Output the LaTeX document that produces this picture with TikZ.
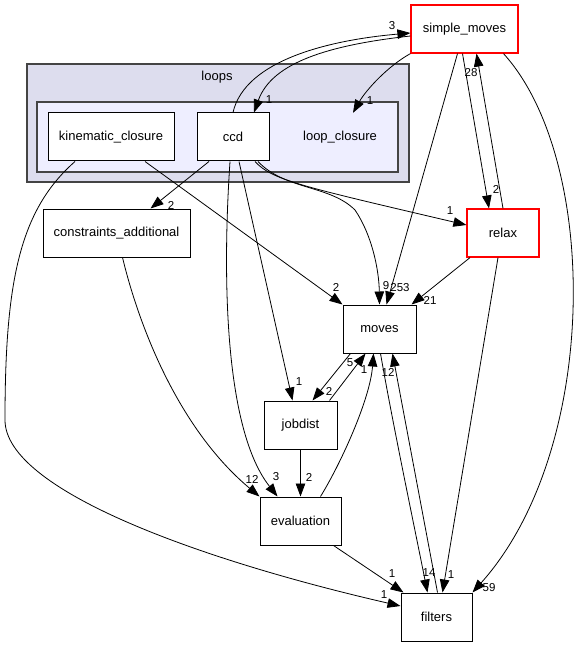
\documentclass[tikz,border=0pt]{standalone}
\usepackage{fontspec}
\setmainfont{Liberation Sans}
\usetikzlibrary{arrows.meta,calc}
\definecolor{clouter}{HTML}{DDDDEE}
\definecolor{clinner}{HTML}{EEEEFF}
\definecolor{clline}{HTML}{444444}
\definecolor{redline}{HTML}{FF0000}
\begin{document}
\begin{tikzpicture}[x=1pt,y=-1pt,
  box/.style={draw=black,line width=1pt,fill=white,minimum height=48pt,inner sep=0pt,font=\fontsize{13}{15}\selectfont},
  redbox/.style={draw=redline,line width=1.2pt,fill=white,minimum height=48pt,inner sep=0pt,font=\fontsize{13}{15}\selectfont},
  plain/.style={inner sep=0pt,minimum height=48pt,font=\fontsize{13}{15}\selectfont},
  e/.style={draw=black,line width=0.8pt,-{Triangle[length=13pt,width=9.5pt]}},
  lbl/.style={font=\fontsize{11.5}{13}\selectfont,inner sep=0pt}]
\useasboundingbox (0,0) rectangle (582,647);
\fill[white] (0,0) rectangle (582,647);
% clusters
\draw[fill=clouter,draw=clline,line width=1.1pt] (27,64) rectangle (409,182);
\node[font=\fontsize{13}{15}\selectfont,inner sep=0pt] (loopslbl) at (217,77) {loops};
\draw[fill=clinner,draw=clline,line width=1.1pt] (37,102) rectangle (398,172);
% nodes
\node[redbox,minimum width=107pt] (sm) at (464.5,29) {simple\_moves};
\node[box,minimum width=126pt] (kin) at (111,137) {kinematic\_closure};
\node[box,minimum width=72pt] (ccd) at (233,137) {ccd};
\node[plain,minimum width=72pt] (lc) at (340,137) {loop\_closure};
\node[box,minimum width=147pt] (ca) at (116.5,233) {constraints\_additional};
\node[redbox,minimum width=72pt] (relax) at (503,233) {relax};
\node[box,minimum width=73pt] (moves) at (379.5,329) {moves};
\node[box,minimum width=73pt] (jobdist) at (300.5,425) {jobdist};
\node[box,minimum width=81pt] (eval) at (300.5,521) {evaluation};
\node[box,minimum width=71pt] (filters) at (436.5,617) {filters};
% edges
\draw[e] (ccd.north) .. controls (245,60) and (330,40) .. ($(sm.west)+(0,4)$);
\draw[e] ($(sm.west)+(0,7)$) .. controls (330,45) and (272,62) .. ($(ccd.north)+(21,0)$);
\draw[e] (sm.south west) .. controls (388,66) and (366,90) .. ($(lc.north)+(13,0)$);
\draw[e] ($(sm.south)+(-7,0)$) -- ($(moves.north)+(7,0)$);
\draw[e] ($(sm.south)+(-2,0)$) -- ($(relax.north)+(-14,0)$);
\draw[e] (relax.north) -- ($(sm.south)+(12,0)$);
\draw[e] ($(sm.south)+(39,0)$) .. controls (600,160) and (600,450) .. (filters.north east);
\draw[e] ($(relax.south)+(-33,0)$) -- ($(moves.north)+(32,0)$);
\draw[e] ($(relax.south)+(-5,0)$) -- ($(filters.north)+(6,0)$);
\draw[e] ($(ccd.south)+(-24,0)$) -- ($(ca.north)+(34,0)$);
\draw[e] ($(ccd.south)+(22,0)$) .. controls (272,180) and (300,186) .. ($(relax.west)+(0,-8)$);
\draw[e] ($(ccd.south)+(25,0)$) .. controls (285,190) and (330,185) .. (355,210) .. controls (372,235) and (379,270) .. (moves.north);
\draw[e] ($(ccd.south)+(6,0)$) -- ($(jobdist.north)+(-8,0)$);
\draw[e] ($(ccd.south)+(-3,0)$) .. controls (222,280) and (225,430) .. ($(eval.north)+(-23,0)$);
\draw[e] ($(kin.south)+(34,0)$) -- (moves.north west);
\draw[e] ($(kin.south)+(-36,0)$) .. controls (20,210) and (5,280) .. (5,420) .. controls (5,490) and (200,560) .. ($(filters.west)+(0,-11)$);
\draw[e] ($(ca.south)+(6,0)$) .. controls (140,330) and (180,430) .. (eval.north west);
\draw[e] ($(moves.south)+(-29,0)$) -- ($(jobdist.north)+(12,0)$);
\draw[e] ($(jobdist.north)+(29,0)$) -- ($(moves.south)+(-14,0)$);
\draw[e] ($(eval.north)+(20,0)$) .. controls (340,465) and (370,400) .. ($(moves.south)+(-6,0)$);
\draw[e] (jobdist.south) -- (eval.north);
\draw[e] ($(eval.south)+(33,0)$) -- ($(filters.north west)+(3,0)$);
\draw[e] ($(moves.south)+(1,0)$) .. controls (392,420) and (415,530) .. ($(filters.north)+(-9,0)$);
\draw[e] ($(filters.north)+(1,0)$) -- ($(moves.south)+(13,0)$);
% labels
\node[lbl] (l1) at (392,26) {3};
\node[lbl] (l2) at (269,100) {1};
\node[lbl] (l3) at (370,101) {1};
\node[lbl] (l4) at (471,73) {28};
\node[lbl] (l5) at (496,189) {2};
\node[lbl] (l6) at (450,211) {1};
\node[lbl] (l7) at (336,287) {2};
\node[lbl] (l8) at (386,286) {9};
\node[lbl] (l9) at (400,288) {253};
\node[lbl] (l10) at (430,300) {21};
\node[lbl] (l11) at (171,205) {2};
\node[lbl] (l12) at (350,363) {5};
\node[lbl] (l13) at (364,370) {1};
\node[lbl] (l14) at (388,372) {12};
\node[lbl] (l15) at (299,382) {1};
\node[lbl] (l16) at (329,391) {2};
\node[lbl] (l17) at (309,477) {2};
\node[lbl] (l18) at (276,477) {3};
\node[lbl] (l19) at (252,479) {12};
\node[lbl] (l20) at (392,574) {1};
\node[lbl] (l21) at (384,595) {1};
\node[lbl] (l22) at (429,573) {14};
\node[lbl] (l23) at (451,575) {1};
\node[lbl] (l24) at (489,588) {59};
\end{tikzpicture}
\end{document}
